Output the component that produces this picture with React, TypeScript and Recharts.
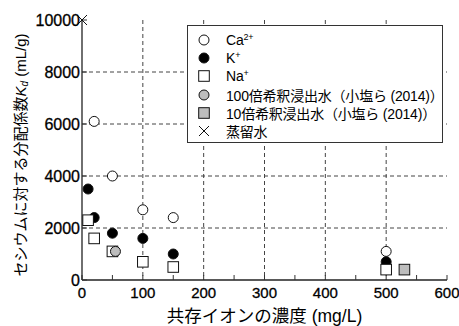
import { ScatterChart, Scatter, XAxis, YAxis, CartesianGrid, Legend } from 'recharts';

type Pt = { x: number; y: number };

// concentration (mg/L) vs Kd (mL/g)
const caPts: Pt[] = [
  { x: 20, y: 6100 },
  { x: 50, y: 4000 },
  { x: 100, y: 2700 },
  { x: 150, y: 2400 },
  { x: 500, y: 1100 },
];
const kPts: Pt[] = [
  { x: 10, y: 3500 },
  { x: 20, y: 2400 },
  { x: 50, y: 1800 },
  { x: 100, y: 1600 },
  { x: 150, y: 1000 },
  { x: 500, y: 700 },
];
const naPts: Pt[] = [
  { x: 10, y: 2300 },
  { x: 20, y: 1600 },
  { x: 50, y: 1100 },
  { x: 100, y: 700 },
  { x: 150, y: 500 },
  { x: 500, y: 400 },
];
const dil100Pts: Pt[] = [{ x: 55, y: 1100 }];
const dil10Pts: Pt[] = [{ x: 530, y: 400 }];
const waterPts: Pt[] = [{ x: 0, y: 10000 }];

const xTicks = [0, 50, 100, 150, 200, 250, 300, 350, 400, 450, 500, 550, 600];
const yTicks = [0, 2000, 4000, 6000, 8000, 10000];
const xGrid = [100, 200, 300, 400, 500];
const yGrid = [2000, 4000, 6000, 8000];

const FONT = '"Liberation Sans", Arial, "Noto Sans CJK JP", sans-serif';
const GRAY = '#bdbdbd';
const INK = '#111';

const OpenCircle = ({ cx, cy }: any) => <circle cx={cx} cy={cy} r={5} fill="#fff" stroke={INK} strokeWidth={1} />;
const FilledCircle = ({ cx, cy }: any) => <circle cx={cx} cy={cy} r={5} fill="#000" stroke={INK} strokeWidth={1} />;
const GrayCircle = ({ cx, cy }: any) => <circle cx={cx} cy={cy} r={5} fill={GRAY} stroke={INK} strokeWidth={1} />;
const OpenSquare = ({ cx, cy }: any) => <rect x={cx - 5.3} y={cy - 5.3} width={10.6} height={10.6} fill="#fff" stroke={INK} strokeWidth={1} />;
const GraySquare = ({ cx, cy }: any) => <rect x={cx - 5.3} y={cy - 5.3} width={10.6} height={10.6} fill={GRAY} stroke={INK} strokeWidth={1} />;
const Cross = ({ cx, cy }: any) => (
  <path d={`M${cx - 5},${cy - 5}L${cx + 5},${cy + 5}M${cx - 5},${cy + 5}L${cx + 5},${cy - 5}`} stroke={INK} strokeWidth={1} />
);

const sup = { fontSize: 9, position: 'relative', top: -5 } as React.CSSProperties;

const legendItems: { shape: (p: any) => React.ReactElement; label: React.ReactNode }[] = [
  { shape: OpenCircle, label: <>Ca<span style={sup}>2+</span></> },
  { shape: FilledCircle, label: <>K<span style={sup}>+</span></> },
  { shape: OpenSquare, label: <>Na<span style={sup}>+</span></> },
  { shape: GrayCircle, label: '100倍希釈浸出水（小塩ら (2014)）' },
  { shape: GraySquare, label: '10倍希釈浸出水（小塩ら (2014)）' },
  { shape: Cross, label: '蒸留水' },
];

function LegendBox() {
  return (
    <div
      style={{
        boxSizing: 'border-box',
        width: 256,
        height: 118,
        border: '1px solid #333',
        background: '#fff',
        paddingTop: 5,
        paddingLeft: 9,
        fontFamily: FONT,
        fontSize: 14,
        color: '#000',
      }}
    >
      {legendItems.map((it, i) => (
        <div key={i} style={{ display: 'flex', alignItems: 'center', height: 18.2, whiteSpace: 'nowrap' }}>
          <svg width={29} height={14} style={{ flex: 'none' }}>
            {it.shape({ cx: 7, cy: 7 })}
          </svg>
          <span style={{ letterSpacing: -0.2 }}>{it.label}</span>
        </div>
      ))}
    </div>
  );
}

function XTick({ x, y, payload }: any) {
  const v = payload.value as number;
  if (v % 100 !== 0) return null;
  return (
    <text x={x} y={y} dy={10.5} textAnchor="middle" fontFamily={FONT} fontSize={15} fill="#000" stroke="#000" strokeWidth={0.3}>
      {v}
    </text>
  );
}

function YTick({ x, y, payload }: any) {
  return (
    <text x={x} y={y} dy={5.5} textAnchor="end" fontFamily={FONT} fontSize={16} fill="#000" stroke="#000" strokeWidth={0.3}>
      {payload.value}
    </text>
  );
}

function YLabel({ viewBox }: any) {
  const cx = 20;
  const cy = viewBox.y + viewBox.height / 2 + 5;
  return (
    <text
      x={cx}
      y={cy}
      transform={`rotate(-90, ${cx}, ${cy})`}
      textAnchor="middle"
      dominantBaseline="central"
      fontFamily={FONT}
      fontSize={15}
      fill="#000"
    >
      セシウムに対する分配係数
      <tspan fontStyle="italic">K</tspan>
      <tspan fontStyle="italic" fontSize={10} dy={4}>d</tspan>
      <tspan dy={-4}> (mL/g)</tspan>
    </text>
  );
}

export default function App() {
  const axisLine = { stroke: '#222', strokeWidth: 1.3 };
  return (
    <div style={{ position: 'absolute', left: 0, top: 0, background: '#fff' }}>
      <ScatterChart width={459} height={326} margin={{ top: 20, right: 12, left: 0, bottom: 0 }}>
        <CartesianGrid
          xAxisId="b"
          yAxisId="l"
          verticalValues={xGrid}
          horizontalValues={yGrid}
          stroke="#444"
          strokeDasharray="4 3"
        />
        <XAxis
          xAxisId="b"
          type="number"
          dataKey="x"
          domain={[0, 600]}
          ticks={xTicks}
          interval={0}
          tickSize={-5}
          tickMargin={12}
          height={46}
          axisLine={axisLine}
          tickLine={{ stroke: '#333' }}
          tick={<XTick />}
          label={{
            value: '共存イオンの濃度 (mg/L)',
            position: 'insideBottom',
            offset: 4,
            fill: '#000',
            fontSize: 17.5,
            fontFamily: FONT,
          }}
        />
        <XAxis
          xAxisId="t"
          orientation="top"
          type="number"
          domain={[0, 600]}
          ticks={xTicks}
          interval={0}
          tick={false}
          tickSize={-5}
          height={0}
          axisLine={{ stroke: '#444', strokeWidth: 1.6 }}
          tickLine={{ stroke: '#333' }}
        />
        <YAxis
          yAxisId="l"
          type="number"
          dataKey="y"
          domain={[0, 10000]}
          ticks={yTicks}
          interval={0}
          tickSize={-5}
          tickMargin={7}
          width={82}
          axisLine={axisLine}
          tickLine={{ stroke: '#333' }}
          tick={<YTick />}
          label={{ content: YLabel }}
        />
        <YAxis
          yAxisId="r"
          orientation="right"
          type="number"
          domain={[0, 10000]}
          ticks={yTicks}
          interval={0}
          tick={false}
          tickSize={-5}
          width={0}
          axisLine={{ stroke: '#444', strokeWidth: 1.6 }}
          tickLine={{ stroke: '#333' }}
        />
        <Legend
          layout="vertical"
          align="center"
          verticalAlign="middle"
          wrapperStyle={{ top: 25, left: 187, width: 256, height: 118 }}
          content={() => <LegendBox />}
        />
        <Scatter name="Ca" data={caPts} xAxisId="b" yAxisId="l" shape={OpenCircle} isAnimationActive={false} />
        <Scatter name="K" data={kPts} xAxisId="b" yAxisId="l" shape={FilledCircle} isAnimationActive={false} />
        <Scatter name="Na" data={naPts} xAxisId="b" yAxisId="l" shape={OpenSquare} isAnimationActive={false} />
        <Scatter name="dil100" data={dil100Pts} xAxisId="b" yAxisId="l" shape={GrayCircle} isAnimationActive={false} />
        <Scatter name="dil10" data={dil10Pts} xAxisId="b" yAxisId="l" shape={GraySquare} isAnimationActive={false} />
        <Scatter name="water" data={waterPts} xAxisId="b" yAxisId="l" shape={Cross} isAnimationActive={false} />
      </ScatterChart>
    </div>
  );
}
